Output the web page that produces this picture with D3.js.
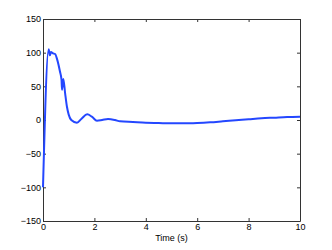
<!DOCTYPE html>
<html>
<head>
<meta charset="utf-8">
<script src="https://cdn.jsdelivr.net/npm/d3@7"></script>
<style>
	body { margin: 0; background: #fff; }
	svg text { font-family: 'Liberation Sans', Arial, sans-serif; font-size: 9px; fill: #000; }
</style>
</head>
<body>
<div id="chart"></div>
<script>
// Response data
var times = [0, 0.22, 0.27, 0.31, 0.39, 0.47, 0.55, 0.66, 0.72, 0.74, 0.79, 0.86, 0.93, 1.0, 1.1, 1.32, 1.5, 1.72, 1.9, 2.1, 2.3, 2.53, 2.8, 3.0, 3.5, 4.0, 4.5, 5.0, 5.5, 6.0, 6.5, 7.0, 7.5, 8.0, 8.5, 9.0, 9.5, 10];
var values = [-100, 105, 96, 101, 99, 98, 90, 72, 60, 45, 61, 40, 20, 8, 0, -4, 2, 8.5, 5, -1, 0, 1.5, 0, -2, -3, -4, -4.5, -5, -5, -4.5, -3.5, -2, -0.5, 1, 2.5, 3.5, 4.5, 5];
var xTicks = [0, 2, 4, 6, 8, 10];
var yTicks = [-150, -100, -50, 0, 50, 100, 150];

var width = 332, height = 250;
var margin = { top: 19, right: 32, bottom: 29, left: 43 };

var svg = d3.select('#chart').append('svg')
	.attr('width', width)
	.attr('height', height);

var x = d3.scaleLinear().domain([0, 10]).range([margin.left, width - margin.right]);
var y = d3.scaleLinear().domain([-150, 150]).range([height - margin.bottom, margin.top]);

var data = times.map(function (t, i) { return { t: t, v: values[i] }; });

// Box with inward ticks on all sides
var g = svg.append('g');

g.append('g')
	.attr('transform', 'translate(0,' + y.range()[0] + ')')
	.call(d3.axisBottom(x).tickValues(xTicks).tickSizeInner(-3).tickSizeOuter(0).tickPadding(3));
g.append('g')
	.attr('transform', 'translate(0,' + y.range()[1] + ')')
	.call(d3.axisTop(x).tickValues(xTicks).tickSizeInner(-3).tickSizeOuter(0).tickFormat(''));
g.append('g')
	.attr('transform', 'translate(' + x.range()[0] + ',0)')
	.call(d3.axisLeft(y).tickValues(yTicks).tickSizeInner(-3).tickSizeOuter(0).tickPadding(2)
		.tickFormat(function (d) { return d < 0 ? '\u2212' + Math.abs(d) : d; }));
g.append('g')
	.attr('transform', 'translate(' + x.range()[1] + ',0)')
	.call(d3.axisRight(y).tickValues(yTicks).tickSizeInner(-3).tickSizeOuter(0).tickFormat(''));

g.selectAll('.domain').attr('stroke', '#333');
g.selectAll('.tick line').attr('stroke', '#333');
g.selectAll('.tick text').style('font-size', '9px').style('font-family', "'Liberation Sans', Arial, sans-serif").attr('fill', '#000');

var line = d3.line()
	.x(function (d) { return x(d.t); })
	.y(function (d) { return y(d.v); })
	.curve(d3.curveMonotoneX);

svg.append('path')
	.datum(data)
	.attr('fill', 'none')
	.attr('stroke', '#2447ff')
	.attr('stroke-width', 2)
	.attr('stroke-linejoin', 'round')
	.attr('d', line);

svg.append('text')
	.attr('x', (x.range()[0] + x.range()[1]) / 2)
	.attr('y', 241)
	.attr('text-anchor', 'middle')
	.text('Time (s)');
</script>
</body>
</html>
